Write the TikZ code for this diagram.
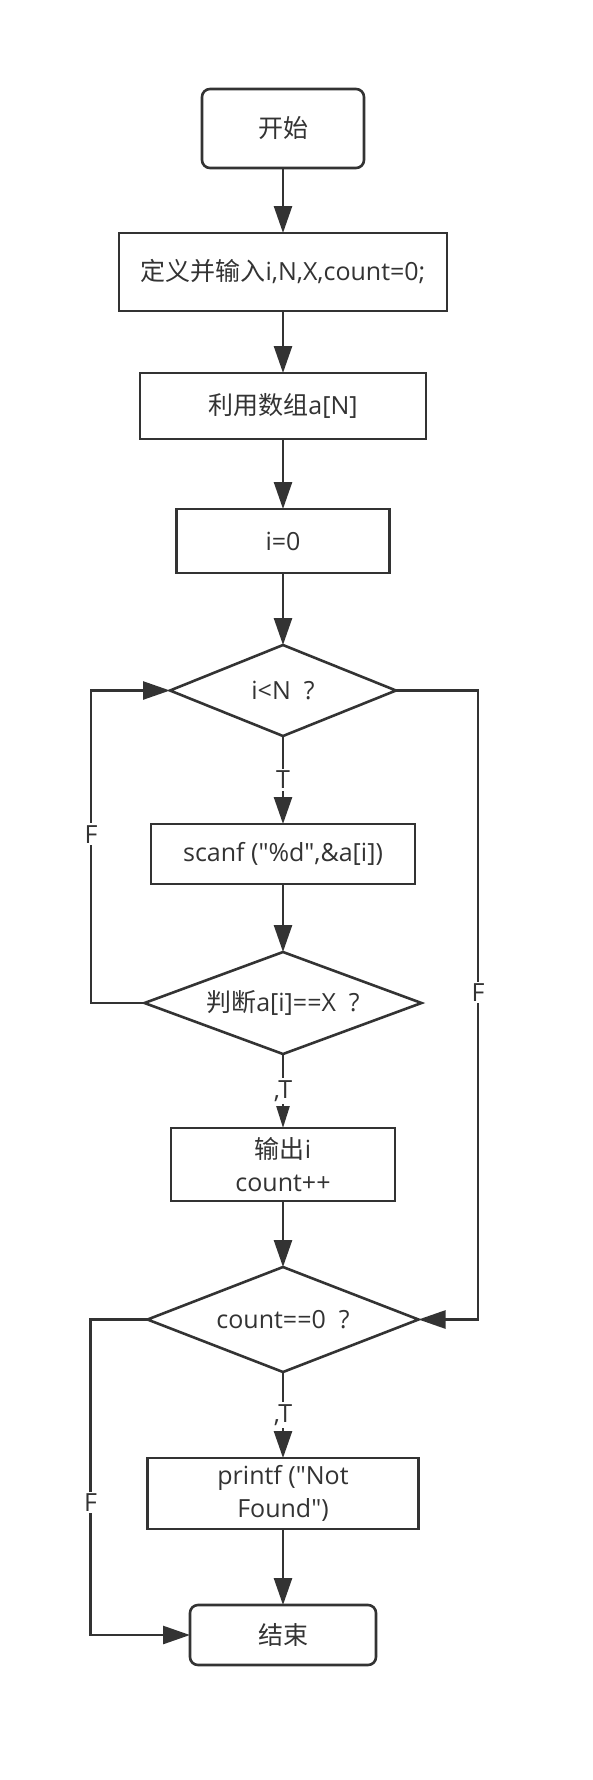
\documentclass[tikz,border=0pt]{standalone}
\usepackage{fontspec}
\setmainfont{Open Sans}[Ligatures=TeXOff]
\newfontfamily\cjk{Noto Sans CJK SC}
\usepackage{tikz}
\usetikzlibrary{arrows.meta,positioning,shapes.geometric}
\definecolor{ink}{HTML}{333333}
\newcommand{\zh}[1]{{\cjk #1}}
\tikzset{
  proc/.style={draw=ink,line width=2.6pt,fill=white,inner sep=2pt,outer sep=0pt,
    align=center,text=ink,font=\fontsize{25}{33}\selectfont},
  term/.style={proc,rounded corners=8pt},
  cond/.style={proc,diamond,shape aspect=2.6,inner sep=1pt},
  flow/.style={-{Triangle[length=27pt,width=18pt]},line width=2.6pt,draw=ink},
  flowsm/.style={flow,-{Triangle[length=22pt,width=13pt]}},
  tf/.style={fill=white,inner sep=2pt,text=ink,font=\fontsize{25}{30}\selectfont},
}
\begin{document}
\begin{tikzpicture}[x=1pt,y=1pt]
  \useasboundingbox (0,0) rectangle (593,-1780);
  \node[term,minimum width=162pt,minimum height=79pt] (start) at (283,-128.5) {\zh{开始}};
  \node[proc,below=65pt of start,minimum width=328pt,minimum height=78pt] (def) {\zh{定义并输入}i,N,X,count=0;};
  \node[proc,below=62pt of def,minimum width=286pt,minimum height=66pt] (arr) {\zh{利用数组}a[N]};
  \node[proc,below=70pt of arr,minimum width=213pt,minimum height=64pt] (init) {i=0};
  \node[cond,below=72pt of init,minimum width=226pt,minimum height=91pt] (lt) {i<N\ \ ?};
  \node[proc,below=88pt of lt,minimum width=264pt,minimum height=60pt] (scan) {scanf ("\%d",\&a[i])};
  \node[cond,below=68pt of scan,minimum width=277pt,minimum height=102pt] (eq) {\zh{判断}a[i]==X\ \ ?};
  \node[proc,below=74pt of eq,minimum width=224pt,minimum height=73pt] (out) {\zh{输出}i\\count++};
  \node[cond,below=66pt of out,minimum width=271pt,minimum height=105pt] (zero) {count==0\ \ ?};
  \node[proc,below=86pt of zero,minimum width=271pt,minimum height=71pt] (nf) {printf ("Not\\Found")};
  \node[term,below=76pt of nf,minimum width=186pt,minimum height=60pt] (stop) {\zh{结束}};
  % loop corners
  \coordinate[left=79pt of lt.west] (lpA);
  \coordinate[right=82pt of lt.east] (rpA);
  \coordinate[left=57pt of zero.west] (lpB);
  \draw[flow] (start) -- (def);
  \draw[flow] (def) -- (arr);
  \draw[flow] (arr) -- (init);
  \draw[flow] (init) -- (lt);
  \draw[flow] (lt) -- node[tf]{T} (scan);
  \draw[flow] (scan) -- (eq);
  \draw[flowsm] (eq) -- node[tf]{,T} (out);
  \draw[flow] (out) -- (zero);
  \draw[flow] (zero) -- node[tf]{,T} (nf);
  \draw[flow] (nf) -- (stop);
  \draw[flow] (eq.west) -| node[tf,pos=0.77]{F} (lpA) -- (lt.west);
  \draw[flow] (lt.east) -- (rpA) |- node[tf,pos=0.24]{F} (zero.east);
  \draw[flow] (zero.west) -- (lpB) |- node[tf,pos=0.29]{F} (stop.west);
\end{tikzpicture}
\end{document}
